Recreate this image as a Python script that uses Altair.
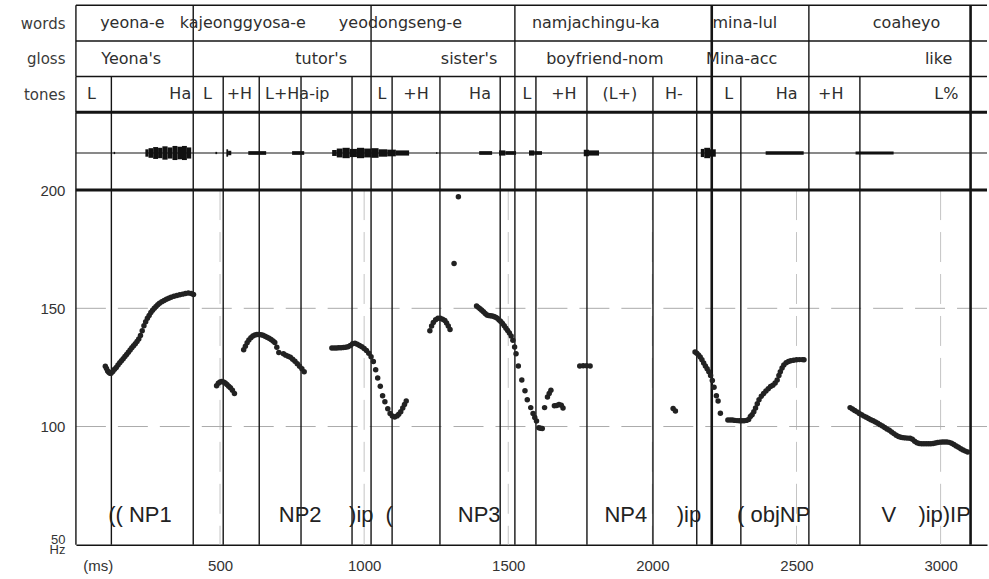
import altair as alt
import pandas as pd

LINE = "#141414"
TEXT = "#2e2e2e"
T_MAX = 3161
W = 912

# ---------------- annotation tiers ----------------
tier_names = ["words", "gloss", "tones"]
word_bounds = [0, 407, 1024, 1523, 2206, 2543, 3104]
gloss_bounds = [0, 407, 1024, 1523, 2206, 2543, 3104]
tone_bounds = [0, 123, 407, 511, 636, 781, 958, 1024, 1097, 1263, 1472, 1523,
               1596, 1773, 2002, 2154, 2206, 2307, 2543, 2720, 3104]

word_labels = ["yeona-e", "kajeonggyosa-e", "yeodongseng-e", "namjachingu-ka", "mina-lul", "coaheyo"]
word_pos = [196, 579, 1126, 1804, 2321, 2882]
gloss_labels = ["Yeona's", "tutor's", "sister's", "boyfriend-nom", "Mina-acc", "like"]
gloss_pos = [192, 851, 1364, 1835, 2310, 2993]
tone_labels = ["L", "Ha", "L", "+H", "L+Ha-ip", "L", "+H", "Ha", "L", "+H", "(L+)", "H-",
               "L", "Ha", "+H", "L%"]
tone_pos = [54, 362, 456, 567, 768, 1062, 1180, 1402, 1565, 1693, 1887, 2075,
            2265, 2466, 2619, 3020]

# ---------------- waveform strip (blobs) ----------------
wave_start = [131, 241, 252, 268, 285, 300, 318, 335, 352, 368, 385, 484, 522, 528, 598, 750, 889, 905, 925,
              950, 975, 1000, 1025, 1050, 1080, 1110, 1250, 1399, 1468, 1490, 1572, 1590, 1762, 1780, 2168,
              2180, 2200, 2393, 2705]
wave_end = [136, 252, 268, 285, 300, 318, 335, 352, 368, 385, 400, 490, 528, 539, 660, 792, 905, 925, 950,
            975, 1000, 1025, 1050, 1080, 1110, 1156, 1254, 1444, 1490, 1527, 1590, 1617, 1780, 1815, 2180,
            2200, 2220, 2525, 2837]
wave_amp = [0.03, 0.10, 0.13, 0.16, 0.14, 0.18, 0.15, 0.19, 0.17, 0.19, 0.15, 0.03, 0.10, 0.06, 0.05, 0.05,
            0.08, 0.12, 0.14, 0.11, 0.14, 0.12, 0.13, 0.10, 0.09, 0.07, 0.03, 0.05, 0.07, 0.05, 0.07, 0.05,
            0.09, 0.07, 0.11, 0.14, 0.10, 0.05, 0.04]

# ---------------- pitch track ----------------
seg1_ms = [102, 106, 110, 114, 118, 122, 128, 134, 140, 146, 152, 158, 164, 170, 176, 182, 188, 194, 200, 206,
           212, 218, 224, 230, 236, 242, 248, 254, 260, 266, 272, 278, 284, 290, 298, 306, 314, 322, 330, 340,
           350, 360, 370, 380, 390, 400, 408]
seg1_hz = [125.5, 124.5, 123.5, 123, 122.5, 122.5, 123.3, 124.2, 125, 126, 127, 127.8, 128.7, 129.6, 130.5, 131.4,
           132.4, 133.3, 134.2, 135, 136, 137, 138.5, 140.5, 142.6, 144.3, 145.8, 147, 148.2, 149.2, 150, 150.8,
           151.5, 152.1, 152.8, 153.3, 153.8, 154.3, 154.7, 155.1, 155.4, 155.7, 156, 156.3, 156.5, 156.3, 155.8]
seg2_ms = [488, 494, 500, 506, 512, 518, 524, 530, 536, 543, 550]
seg2_hz = [117.2, 118.3, 118.8, 119, 118.8, 118.4, 117.8, 117, 116.4, 115.3, 114]
seg3_ms = [582, 588, 594, 600, 607, 614, 621, 628, 635, 642, 649, 656, 663, 670, 677, 684, 690, 697, 704,
           720, 728, 736, 744, 752, 760, 768, 776, 784, 792]
seg3_hz = [132.5, 134, 135.4, 136.6, 137.6, 138.3, 138.7, 138.9, 138.9, 138.8, 138.6, 138.2, 137.8, 137.3, 136.8,
           136.2, 135.5, 133.5, 131.3, 130.8, 130.2, 129.7, 129.3, 128.5, 127.6, 126.6, 125.5, 124.4, 123.2]
seg4_ms = [888, 896, 904, 912, 920, 928, 936, 944, 952, 960, 968, 976, 984, 992, 1000, 1008, 1016, 1024, 1032,
           1040, 1047, 1056, 1064, 1072, 1082, 1090, 1098, 1106, 1114, 1120, 1127, 1134, 1140, 1146]
seg4_hz = [133.2, 133.2, 133.2, 133.3, 133.3, 133.4, 133.5, 133.7, 134.3, 135, 135.2, 134.8, 134.3, 133.7, 133,
           132.2, 131, 129.5, 127.5, 124, 120.5, 117, 113, 110.5, 107.5, 105.5, 104.5, 104, 104.5, 105.2, 106.3,
           107.8, 109.3, 110.8]
seg5_ms = [1228, 1234, 1240, 1248, 1256, 1264, 1272, 1280, 1286, 1292, 1298, 1312, 1327]
seg5_hz = [140.5, 142.5, 144, 145.2, 145.8, 145.8, 145.4, 144.8, 143.8, 142.5, 141, 169, 197.2]
seg6_ms = [1390, 1396, 1402, 1408, 1414, 1420, 1426, 1432, 1438, 1444, 1450, 1456, 1462, 1468, 1474, 1480, 1486,
           1492, 1498, 1504, 1510, 1516, 1522, 1527, 1535, 1547, 1558, 1566, 1578, 1586, 1592, 1598, 1606, 1612, 1618]
seg6_hz = [151, 150.4, 149.8, 149.2, 148.5, 147.8, 147.2, 147, 146.9, 146.8, 146.5, 146.2, 145.8, 145.1, 144.4,
           143.6, 142.6, 141.6, 140.6, 139.6, 138.3, 136.5, 133.6, 130.8, 125.6, 119.7, 115.1, 111.3, 108, 105.5,
           103.8, 102.3, 99.5, 99.3, 99.2]
seg7_ms = [1626, 1636, 1642, 1648, 1660, 1668, 1676, 1684, 1690, 1748, 1760, 1772, 1784, 2072, 2080]
seg7_hz = [108, 112.5, 114, 115.3, 108.8, 108.9, 109.3, 109, 107.8, 125.6, 125.7, 125.7, 125.6, 107.6, 106.6]
seg8_ms = [2148, 2154, 2160, 2166, 2172, 2178, 2184, 2190, 2196, 2202, 2208, 2214, 2222, 2228, 2236, 2262, 2270,
           2278, 2286, 2294, 2302, 2310, 2318, 2326, 2334, 2340, 2346, 2352, 2358, 2364, 2370, 2378, 2386, 2394,
           2402, 2410, 2418, 2426, 2433, 2439, 2444, 2450, 2456, 2464, 2472, 2480, 2490, 2500, 2510, 2520, 2526]
seg8_hz = [131.5, 131, 130.3, 129.4, 128.2, 126.9, 125.6, 124.4, 123.2, 121.6, 119.5, 116.6, 113, 110.8, 105.6,
           102.8, 102.8, 102.8, 102.6, 102.5, 102.4, 102.4, 102.4, 102.6, 103, 104.2, 105, 106.3, 107.8, 109.6,
           111.3, 112.8, 114, 115, 116, 116.9, 117.5, 118.4, 119.7, 121.6, 123.2, 124.8, 126, 127, 127.5, 127.8,
           128, 128.2, 128.3, 128.3, 128.2]
seg9_ms = [2686, 2694, 2702, 2710, 2718, 2726, 2734, 2742, 2750, 2758, 2766, 2774, 2782, 2790, 2798, 2806, 2814,
           2822, 2830, 2838, 2846, 2854, 2862, 2870, 2878, 2886, 2894, 2902, 2910, 2918, 2926, 2934, 2942, 2950,
           2958, 2966, 2974, 2982, 2990, 2998, 3006, 3014, 3022, 3030, 3038, 3046, 3054, 3062, 3070, 3078, 3086, 3094]
seg9_hz = [108, 107.4, 106.8, 106.2, 105.5, 105, 104.4, 103.9, 103.4, 102.9, 102.4, 101.9, 101.4, 100.8, 100.2,
           99.6, 99, 98.4, 97.7, 97, 96.3, 95.8, 95.5, 95.3, 95.2, 95.1, 95, 94.6, 93.8, 93.1, 92.8, 92.7, 92.7,
           92.7, 92.7, 92.7, 92.8, 93, 93.2, 93.4, 93.5, 93.5, 93.5, 93.3, 92.9, 92.4, 91.8, 91.2, 90.6, 90.1,
           89.6, 89.2]

pitch_ms = seg1_ms + seg2_ms + seg3_ms + seg4_ms + seg5_ms + seg6_ms + seg7_ms + seg8_ms + seg9_ms
pitch_hz = seg1_hz + seg2_hz + seg3_hz + seg4_hz + seg5_hz + seg6_hz + seg7_hz + seg8_hz + seg9_hz

phrase_labels = ["(( NP1", "NP2", ")ip", "(", "NP3", "NP4", ")ip", "( objNP", "V", ")ip)IP"]
phrase_pos = [222, 778, 990, 1087, 1399, 1908, 2127, 2421, 2820, 3014]

grid_ms = [500, 1000, 1500, 2000, 2500, 3000]
grid_hz = [100, 150]
x_ticks = [76, 500, 1000, 1500, 2000, 2500, 3000]
y_ticks = [50, 100, 150, 200]
thick_ms = [2206, 3104]

# ---------------- shared encodings ----------------
xs = alt.Scale(domain=[0, T_MAX], nice=False, zero=False)
X_none = alt.X("t:Q", scale=xs, axis=None)
thick_test = " || ".join(f"datum.t == {v}" for v in thick_ms)
SW = alt.condition(thick_test, alt.value(2.6), alt.value(1.4))

# ---------------- tier chart ----------------
tier_scale = alt.Scale(domain=[0, 3], reverse=True, nice=False, zero=False)
tier_axis = alt.Axis(values=[0.5, 1.5, 2.5],
                     labelExpr="datum.value < 1 ? 'words' : (datum.value < 2 ? 'gloss' : 'tones')",
                     ticks=False, domain=False, grid=False, labelFont="DejaVu Sans", labelFontSize=15,
                     labelColor="#3a3a3a", labelPadding=11, title=None)
Y_tier = alt.Y("r:Q", scale=tier_scale, axis=tier_axis)

b_rows = []
for i, bl in enumerate([word_bounds, gloss_bounds, tone_bounds]):
    for t in bl:
        b_rows.append({"t": t, "r": i, "r2": i + 1})
bounds_df = pd.DataFrame(b_rows)

lab_rows = []
for i, (labs, pos) in enumerate([(word_labels, word_pos), (gloss_labels, gloss_pos), (tone_labels, tone_pos)]):
    for l, p in zip(labs, pos):
        lab_rows.append({"t": p, "r": i + 0.5, "label": l})
lab_df = pd.DataFrame(lab_rows)

tier_h = alt.Chart(pd.DataFrame({"r": [0, 1, 2]})).mark_rule(color=LINE, strokeWidth=1.5).encode(y=Y_tier)
tier_bottom = alt.Chart(pd.DataFrame({"r": [3]})).mark_rule(color=LINE, strokeWidth=3).encode(y=Y_tier)
tier_v = alt.Chart(bounds_df).mark_rule(color=LINE).encode(x=X_none, y=Y_tier, y2="r2:Q", strokeWidth=SW)
tier_txt = alt.Chart(lab_df).mark_text(font="DejaVu Sans", fontSize=16, color=TEXT, baseline="middle",
                                       align="center").encode(x=X_none, y=Y_tier, text="label:N")
tier_chart = alt.layer(tier_h, tier_v, tier_txt, tier_bottom).properties(width=W, height=107)

# ---------------- waveform strip ----------------
wave_scale = alt.Scale(domain=[-1, 1.1], nice=False, zero=False)
Y_wave = alt.Y("a:Q", scale=wave_scale, axis=None)
wave_df = pd.DataFrame({"t": wave_start, "t2": wave_end, "amp": wave_amp})
wave_base = alt.Chart(pd.DataFrame({"a": [0]})).mark_rule(color=LINE, strokeWidth=1.2).encode(y=Y_wave)
wave_v = alt.Chart(pd.DataFrame({"t": tone_bounds})).mark_rule(color=LINE).encode(x=X_none, strokeWidth=SW)
wave_blob = alt.Chart(wave_df).transform_calculate(a="datum.amp", a2="-datum.amp").mark_rect(
    color="#111111").encode(x=X_none, x2="t2:Q", y=Y_wave, y2="a2:Q")
wave_chart = alt.layer(wave_base, wave_v, wave_blob).properties(width=W, height=78)

# ---------------- pitch chart ----------------
ys = alt.Scale(domain=[50, 200], nice=False, zero=False)
x_axis = alt.Axis(values=x_ticks, format="d", labelExpr="datum.value < 100 ? '(ms)' : datum.label",
                  ticks=False, grid=False, domain=True, domainColor=LINE, domainWidth=1.5,
                  labelFont="Liberation Sans", labelFontSize=15, labelColor="#333333", labelPadding=14,
                  labelFlush=False, labelOverlap=False, title=None)
y_axis = alt.Axis(values=y_ticks, format="d", labelExpr="datum.value == 50 ? ['50', 'Hz'] : datum.label",
                  ticks=False, grid=False, domain=False, labelFont="Liberation Sans",
                  labelFontSize={"condition": {"test": "datum.value == 50", "value": 13}, "value": 15},
                  labelOffset={"condition": {"test": "datum.value == 50", "value": -5}, "value": 0},
                  labelLineHeight=10, labelColor="#333333", labelPadding=11, labelFlush=False,
                  labelOverlap=False, title=None)
X_p = alt.X("t:Q", scale=xs, axis=x_axis)
Y_p = alt.Y("hz:Q", scale=ys, axis=y_axis)

grid_v = alt.Chart(pd.DataFrame({"t": grid_ms})).mark_rule(color="#c4c4c4", strokeWidth=1,
                                                           strokeDash=[30, 12]).encode(x=X_p)
grid_h = alt.Chart(pd.DataFrame({"hz": grid_hz})).mark_rule(color="#ababab", strokeWidth=1,
                                                            strokeDash=[30, 12]).encode(y=Y_p)
pitch_v = alt.Chart(pd.DataFrame({"t": tone_bounds})).mark_rule(color=LINE).encode(x=X_p, strokeWidth=SW)
pitch_top = alt.Chart(pd.DataFrame({"hz": [200]})).mark_rule(color=LINE, strokeWidth=3).encode(y=Y_p)
dots = alt.Chart(pd.DataFrame({"t": pitch_ms, "hz": pitch_hz})).mark_circle(
    size=30, color="#222222", opacity=1).encode(x=X_p, y=Y_p)
phr = alt.Chart(pd.DataFrame({"t": phrase_pos, "label": phrase_labels})).transform_calculate(
    hz="62.7").mark_text(font="Liberation Sans", fontSize=22, color="#222222", baseline="middle",
                         align="center").encode(x=X_p, y=Y_p, text="label:N")
pitch_chart = alt.layer(grid_v, grid_h, pitch_v, dots, phr, pitch_top).properties(width=W, height=355)

chart = alt.vconcat(tier_chart, wave_chart, pitch_chart, spacing=0, bounds="flush").resolve_scale(
    y="independent").configure_view(stroke=None).properties(
    padding={"left": 20, "top": 3, "right": 0, "bottom": 2}, background="white")

chart.save("out.html", embed_options={"renderer": "svg", "actions": False})
